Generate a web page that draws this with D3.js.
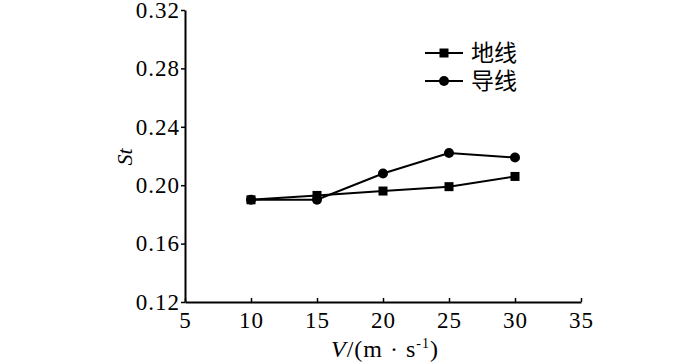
<html>
<head>
<meta charset="utf-8">
<script src="https://d3js.org/d3.v7.min.js"></script>
<style>
body { margin: 0; background: #fff; }
text { font-family: "Liberation Serif", "Times New Roman", serif; fill: #000; }
</style>
</head>
<body>
<script>
// data
var speeds = [10, 15, 20, 25, 30];
var groundWire = [0.190, 0.193, 0.196, 0.199, 0.206];   // 地线
var conductor  = [0.190, 0.190, 0.208, 0.222, 0.219];   // 导线
var xTicks = [5, 10, 15, 20, 25, 30, 35];
var yTicks = [0.12, 0.16, 0.20, 0.24, 0.28, 0.32];

var W = 700, H = 364;
var x0 = 185, x1 = 581, yTop = 10, yBot = 302;

var svg = d3.select("body").append("svg")
    .attr("width", W)
    .attr("height", H);

var x = d3.scaleLinear().domain([5, 35]).range([x0, x1]);
var y = d3.scaleLinear().domain([0.12, 0.32]).range([yBot, yTop]);

// x axis, ticks point inward
var gx = svg.append("g")
    .attr("transform", "translate(0," + yBot + ")")
    .call(d3.axisBottom(x).tickValues(xTicks).tickSizeInner(-4).tickSizeOuter(0).tickPadding(10));

// y axis, ticks point outward
var gy = svg.append("g")
    .attr("transform", "translate(" + x0 + ",0)")
    .call(d3.axisLeft(y).tickValues(yTicks).tickFormat(d3.format(".2f")).tickSizeInner(4).tickSizeOuter(0).tickPadding(1));

[gx, gy].forEach(function(g) {
  g.select(".domain").attr("stroke", "#000").attr("stroke-width", 2);
  g.selectAll(".tick line").attr("stroke", "#000").attr("stroke-width", 1.5);
  g.selectAll(".tick text")
    .style("font-family", "'Liberation Serif', serif")
    .style("font-size", "23px")
    .style("letter-spacing", "1px")
    .attr("fill", "#000");
});

// axis titles
svg.append("text")
    .attr("transform", "translate(132,157) rotate(-90)")
    .attr("text-anchor", "middle")
    .style("font-size", "22px")
    .style("font-style", "italic")
    .text("St");

var xt = svg.append("text")
    .attr("x", 385)
    .attr("y", 357)
    .attr("text-anchor", "middle")
    .style("font-size", "24px")
    .style("letter-spacing", "1px");
xt.append("tspan").style("font-style", "italic").text("V");
xt.append("tspan").text("/(m \u00b7 s");
xt.append("tspan").attr("dy", -9).style("font-size", "14px").text("-1");
xt.append("tspan").attr("dy", 9).text(")");

// lines
var line = d3.line()
    .x(function(d, i) { return x(speeds[i]); })
    .y(function(d) { return y(d); });

svg.append("path").datum(groundWire)
    .attr("fill", "none").attr("stroke", "#000").attr("stroke-width", 2)
    .attr("d", line);
svg.append("path").datum(conductor)
    .attr("fill", "none").attr("stroke", "#000").attr("stroke-width", 2)
    .attr("d", line);

// markers
svg.selectAll(".sq").data(groundWire).enter().append("rect")
    .attr("class", "sq")
    .attr("x", function(d, i) { return x(speeds[i]) - 4.5; })
    .attr("y", function(d) { return y(d) - 4.5; })
    .attr("width", 9).attr("height", 9)
    .attr("fill", "#000");

svg.selectAll(".ci").data(conductor).enter().append("circle")
    .attr("class", "ci")
    .attr("cx", function(d, i) { return x(speeds[i]); })
    .attr("cy", function(d) { return y(d); })
    .attr("r", 5)
    .attr("fill", "#000");

// legend
var legend = [{name: "地线", shape: "square", yy: 53}, {name: "导线", shape: "circle", yy: 81}];
legend.forEach(function(l) {
  svg.append("line").attr("x1", 425).attr("x2", 463).attr("y1", l.yy).attr("y2", l.yy)
    .attr("stroke", "#000").attr("stroke-width", 2);
  if (l.shape === "square") {
    svg.append("rect").attr("x", 444 - 4.5).attr("y", l.yy - 4.5).attr("width", 9).attr("height", 9).attr("fill", "#000");
  } else {
    svg.append("circle").attr("cx", 444).attr("cy", l.yy).attr("r", 5).attr("fill", "#000");
  }
  svg.append("text").attr("x", 471).attr("y", l.yy + 8)
    .style("font-family", "'Noto Sans CJK SC', sans-serif")
    .style("font-size", "23px")
    .text(l.name);
});
</script>
</body>
</html>
